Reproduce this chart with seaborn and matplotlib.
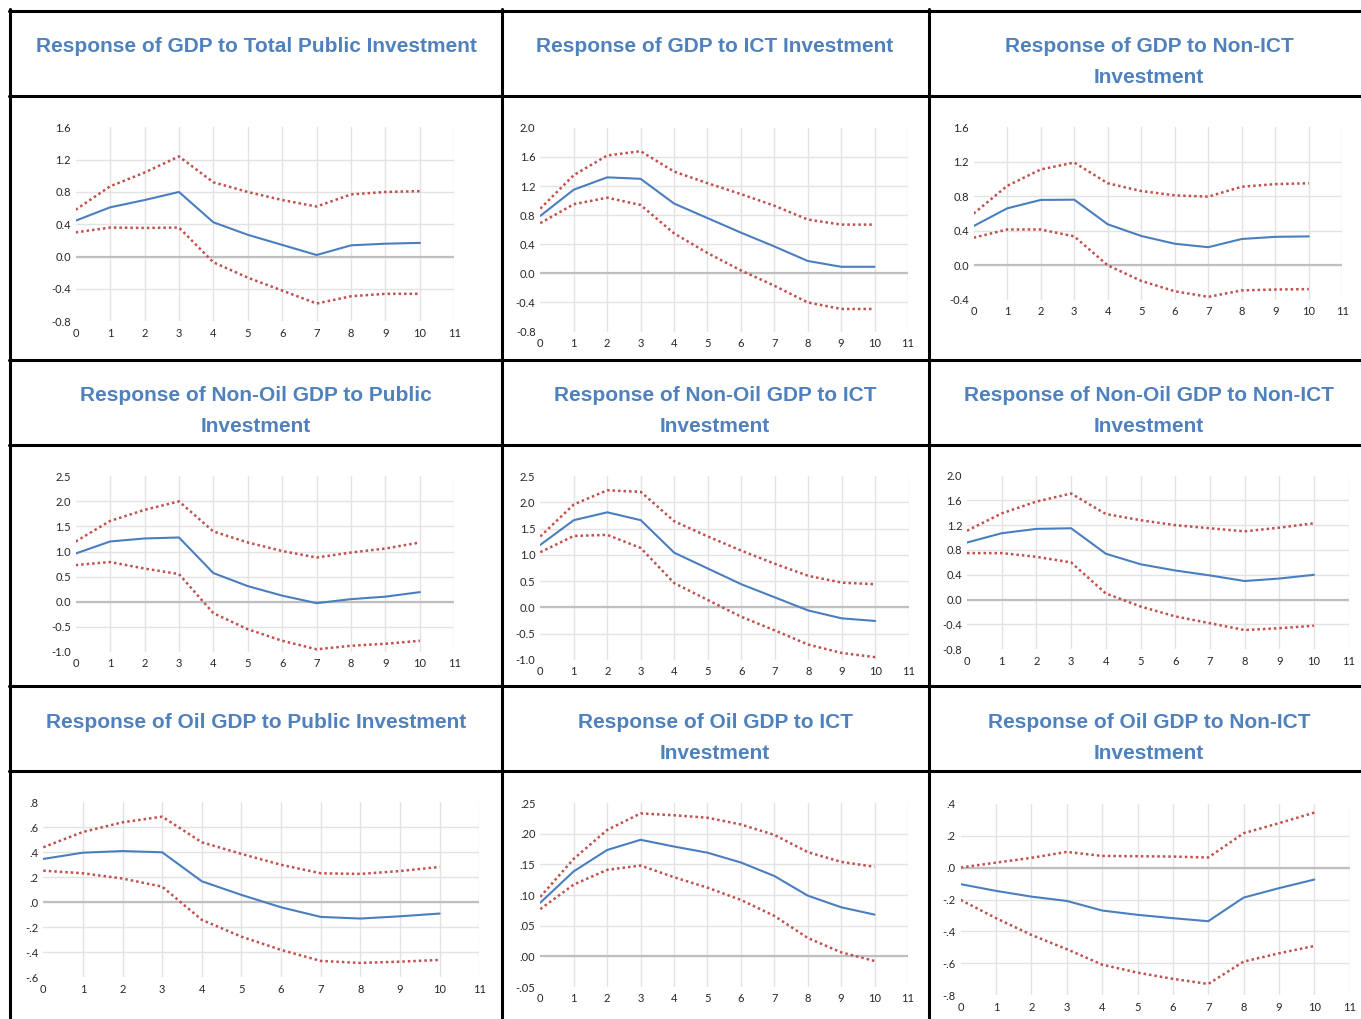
import matplotlib
matplotlib.use("Agg")
import matplotlib.pyplot as plt
import seaborn as sns
from matplotlib.lines import Line2D
from matplotlib.ticker import FuncFormatter

W, H = 1361, 1019

HORIZON = list(range(11))

# GDP / total public investment
gdp_pub_mid = [0.445, 0.61, 0.70, 0.80, 0.425, 0.27, 0.145, 0.02, 0.14, 0.16, 0.17]
gdp_pub_hi = [0.58, 0.87, 1.04, 1.24, 0.92, 0.80, 0.70, 0.62, 0.77, 0.80, 0.81]
gdp_pub_lo = [0.30, 0.36, 0.355, 0.36, -0.07, -0.26, -0.42, -0.58, -0.49, -0.46, -0.46]

# GDP / ICT
gdp_ict_mid = [0.79, 1.15, 1.32, 1.30, 0.96, 0.76, 0.56, 0.37, 0.17, 0.09, 0.09]
gdp_ict_hi = [0.89, 1.35, 1.62, 1.68, 1.40, 1.24, 1.09, 0.93, 0.74, 0.67, 0.67]
gdp_ict_lo = [0.69, 0.95, 1.04, 0.94, 0.55, 0.28, 0.04, -0.17, -0.40, -0.49, -0.49]

# GDP / non-ICT
gdp_nonict_mid = [0.455, 0.66, 0.757, 0.76, 0.475, 0.34, 0.25, 0.21, 0.305, 0.33, 0.335]
gdp_nonict_hi = [0.60, 0.92, 1.11, 1.19, 0.95, 0.86, 0.81, 0.795, 0.91, 0.94, 0.95]
gdp_nonict_lo = [0.32, 0.415, 0.415, 0.335, 0.0, -0.18, -0.30, -0.365, -0.29, -0.28, -0.275]

# Non-oil GDP / public investment
nonoil_pub_mid = [0.96, 1.20, 1.26, 1.28, 0.57, 0.31, 0.12, -0.03, 0.05, 0.10, 0.19]
nonoil_pub_hi = [1.20, 1.61, 1.83, 2.00, 1.40, 1.18, 1.01, 0.88, 0.98, 1.06, 1.18]
nonoil_pub_lo = [0.73, 0.79, 0.66, 0.55, -0.23, -0.55, -0.78, -0.95, -0.88, -0.84, -0.78]

# Non-oil GDP / ICT
nonoil_ict_mid = [1.19, 1.66, 1.81, 1.66, 1.04, 0.74, 0.44, 0.19, -0.06, -0.21, -0.26]
nonoil_ict_hi = [1.35, 1.96, 2.23, 2.20, 1.64, 1.35, 1.08, 0.83, 0.60, 0.47, 0.44]
nonoil_ict_lo = [1.05, 1.36, 1.38, 1.13, 0.46, 0.14, -0.18, -0.44, -0.71, -0.87, -0.95]

# Non-oil GDP / non-ICT
nonoil_nonict_mid = [0.92, 1.07, 1.14, 1.15, 0.74, 0.57, 0.47, 0.39, 0.30, 0.34, 0.40]
nonoil_nonict_hi = [1.11, 1.39, 1.58, 1.71, 1.38, 1.28, 1.20, 1.15, 1.10, 1.16, 1.23]
nonoil_nonict_lo = [0.75, 0.75, 0.69, 0.60, 0.10, -0.11, -0.27, -0.38, -0.49, -0.46, -0.42]

# Oil GDP / public investment
oil_pub_mid = [0.347, 0.397, 0.41, 0.40, 0.168, 0.059, -0.04, -0.117, -0.13, -0.112, -0.09]
oil_pub_hi = [0.44, 0.563, 0.64, 0.685, 0.48, 0.387, 0.30, 0.232, 0.227, 0.25, 0.283]
oil_pub_lo = [0.253, 0.232, 0.19, 0.125, -0.141, -0.275, -0.381, -0.469, -0.485, -0.475, -0.461]

# Oil GDP / ICT
oil_ict_mid = [0.0875, 0.1386, 0.1734, 0.190, 0.179, 0.169, 0.153, 0.131, 0.099, 0.080, 0.068]
oil_ict_hi = [0.097, 0.159, 0.206, 0.233, 0.230, 0.226, 0.215, 0.198, 0.170, 0.154, 0.146]
oil_ict_lo = [0.077, 0.117, 0.141, 0.148, 0.129, 0.112, 0.092, 0.066, 0.030, 0.0065, -0.0076]

# Oil GDP / non-ICT
oil_nonict_mid = [-0.104, -0.146, -0.182, -0.209, -0.269, -0.296, -0.317, -0.336, -0.188, -0.129, -0.075]
oil_nonict_hi = [0.0, 0.031, 0.061, 0.098, 0.073, 0.071, 0.069, 0.063, 0.215, 0.278, 0.344]
oil_nonict_lo = [-0.203, -0.317, -0.422, -0.511, -0.608, -0.658, -0.697, -0.729, -0.589, -0.537, -0.491]

TITLES = [
    "Response of GDP to Total Public Investment",
    "Response of GDP to ICT Investment",
    "Response of GDP to Non-ICT\nInvestment",
    "Response of Non-Oil GDP to Public\nInvestment",
    "Response of Non-Oil GDP to ICT\nInvestment",
    "Response of Non-Oil GDP to Non-ICT\nInvestment",
    "Response of Oil GDP to Public Investment",
    "Response of Oil GDP to ICT\nInvestment",
    "Response of Oil GDP to Non-ICT\nInvestment",
]

YTICKS = [
    [-0.8, -0.4, 0.0, 0.4, 0.8, 1.2, 1.6],
    [-0.8, -0.4, 0.0, 0.4, 0.8, 1.2, 1.6, 2.0],
    [-0.4, 0.0, 0.4, 0.8, 1.2, 1.6],
    [-1.0, -0.5, 0.0, 0.5, 1.0, 1.5, 2.0, 2.5],
    [-1.0, -0.5, 0.0, 0.5, 1.0, 1.5, 2.0, 2.5],
    [-0.8, -0.4, 0.0, 0.4, 0.8, 1.2, 1.6, 2.0],
    [-0.6, -0.4, -0.2, 0.0, 0.2, 0.4, 0.6, 0.8],
    [-0.05, 0.0, 0.05, 0.10, 0.15, 0.20, 0.25],
    [-0.8, -0.6, -0.4, -0.2, 0.0, 0.2, 0.4],
]

SERIES = [
    (gdp_pub_mid, gdp_pub_hi, gdp_pub_lo),
    (gdp_ict_mid, gdp_ict_hi, gdp_ict_lo),
    (gdp_nonict_mid, gdp_nonict_hi, gdp_nonict_lo),
    (nonoil_pub_mid, nonoil_pub_hi, nonoil_pub_lo),
    (nonoil_ict_mid, nonoil_ict_hi, nonoil_ict_lo),
    (nonoil_nonict_mid, nonoil_nonict_hi, nonoil_nonict_lo),
    (oil_pub_mid, oil_pub_hi, oil_pub_lo),
    (oil_ict_mid, oil_ict_hi, oil_ict_lo),
    (oil_nonict_mid, oil_nonict_hi, oil_nonict_lo),
]

# plot boxes in pixels: left, top, right, bottom
BOXES = [
    (75.7, 127.3, 454.3, 321.3),
    (540.3, 127.9, 908.0, 331.5),
    (973.7, 127.1, 1342.3, 299.9),
    (75.7, 476.3, 454.3, 651.8),
    (540.3, 476.1, 908.7, 659.8),
    (967.0, 475.5, 1348.7, 649.3),
    (43.3, 802.3, 479.3, 977.3),
    (540.3, 803.0, 908.0, 987.0),
    (960.7, 803.7, 1349.7, 995.3),
]

TITLE_X = [256, 715, 1149]
TITLE_Y = [46.5, 395.5, 722.5]
H_LINES = [10.5, 95.5, 359.5, 445, 686, 771]
V_LINES = [10, 502, 929]

BLUE = "#4a7ebf"
RED = "#c0504d"
TITLE_COLOR = "#4f81bd"

sns.set_style("white")
plt.rcParams["font.family"] = ["Lato", "DejaVu Sans"]


def tick_formatter(strip_zero, decimals):
    def fmt(value, _pos):
        text = f"{value:.{decimals}f}"
        if strip_zero:
            text = text.replace("0.", ".", 1)
        return text
    return FuncFormatter(fmt)


fig = plt.figure(figsize=(W / 100, H / 100), dpi=100)

for i, ((mid, hi, lo), box, yticks) in enumerate(zip(SERIES, BOXES, YTICKS)):
    left, top, right, bottom = box
    ax = fig.add_axes([left / W, 1 - bottom / H, (right - left) / W, (bottom - top) / H])
    ax.axhline(0, color="#bfbfbf", lw=1.6, zorder=1)
    sns.lineplot(x=HORIZON, y=hi, ax=ax, color=RED, lw=1.8, linestyle=(0, (1.0, 1.2)), zorder=3)
    sns.lineplot(x=HORIZON, y=lo, ax=ax, color=RED, lw=1.8, linestyle=(0, (1.0, 1.2)), zorder=3)
    sns.lineplot(x=HORIZON, y=mid, ax=ax, color=BLUE, lw=1.5, zorder=4)

    ax.set_xlim(0, 11)
    ax.set_ylim(yticks[0], yticks[-1])
    ax.set_xticks(range(12))
    ax.set_yticks(yticks)
    row = i // 3
    if row < 2:
        ax.yaxis.set_major_formatter(tick_formatter(False, 1))
    elif i == 7:
        ax.yaxis.set_major_formatter(tick_formatter(True, 2))
    else:
        ax.yaxis.set_major_formatter(tick_formatter(True, 1))
    ax.set_xlabel("")
    ax.set_ylabel("")
    ax.tick_params(axis="both", length=0, labelsize=8, labelcolor="#262626")
    ax.tick_params(axis="x", pad=4.5)
    ax.tick_params(axis="y", pad=3.5)
    ax.grid(True, color="#e3e3e3", lw=1.0, zorder=0)
    ax.set_axisbelow(True)
    ygrid = ax.yaxis.get_gridlines()
    ygrid[0].set_visible(False)
    ygrid[-1].set_visible(False)
    ax.xaxis.get_gridlines()[0].set_visible(False)
    for spine in ax.spines.values():
        spine.set_visible(False)
    ax.patch.set_alpha(0)

    title_lines = TITLES[i].split("\n")
    for k, line in enumerate(title_lines):
        fig.text(TITLE_X[i % 3] / W, 1 - (TITLE_Y[row] + 31 * k) / H, line,
                 ha="center", va="center", color=TITLE_COLOR, fontsize=15,
                 fontweight="bold", family=["Liberation Sans", "DejaVu Sans"])

for y in H_LINES:
    fig.add_artist(Line2D([V_LINES[0] / W - 0.001, 1.01], [1 - y / H, 1 - y / H],
                          transform=fig.transFigure, color="black", lw=2.2))
for x in V_LINES:
    fig.add_artist(Line2D([x / W, x / W], [1 - H_LINES[0] / H + 0.001, -0.01],
                          transform=fig.transFigure, color="black", lw=2.2))

fig.savefig("out.png", dpi=100)
